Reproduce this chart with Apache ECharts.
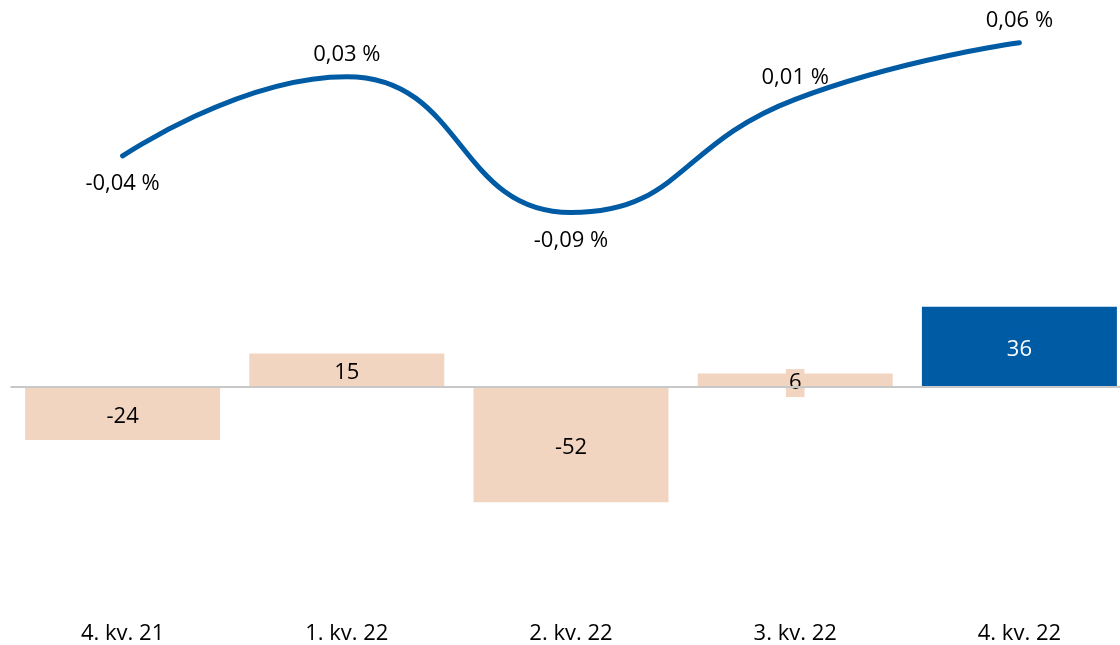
<!DOCTYPE html>
<html>
<head>
<meta charset="utf-8">
<script src="https://cdn.jsdelivr.net/npm/echarts@6/dist/echarts.min.js"></script>
<style>
  html, body { margin: 0; padding: 0; background: #fff; }
  #chart { width: 1120px; height: 645px; }
</style>
</head>
<body>
<div id="chart"></div>
<script>
// kvartaler
var categories = ['4. kv. 21', '1. kv. 22', '2. kv. 22', '3. kv. 22', '4. kv. 22'];
// søjler
var barValues = [-24, 15, -52, 6, 36];
// linje, procent
var lineValues = [-0.04, 0.03, -0.09, 0.01, 0.06];

var beige = '#f2d5c1';
var blue = '#005ba5';
var font = '"Open Sans", sans-serif';

var myChart = echarts.init(document.getElementById('chart'));

var barData = barValues.map(function (v, i) {
  var last = i === barValues.length - 1;
  return {
    value: v,
    itemStyle: { color: last ? blue : beige },
    label: { color: last ? '#fff' : '#000', backgroundColor: last ? blue : beige }
  };
});

var lineData = lineValues.map(function (v) {
  return {
    value: v,
    label: { position: v < 0 ? 'bottom' : 'top', distance: v < 0 ? 17 : 11 }
  };
});

var option = {
  animation: false,
  textStyle: { fontFamily: font },
  grid: {
    left: 10.5, width: 1121, top: 20, bottom: 36,
    containLabel: false, outerBoundsMode: 'none'
  },
  xAxis: {
    type: 'category',
    data: categories,
    boundaryGap: true,
    axisLine: { show: false },
    axisTick: { show: false },
    axisLabel: { color: '#000', fontSize: 22, margin: 14, fontFamily: font }
  },
  yAxis: [
    { type: 'value', min: -100, max: 165, show: false, splitLine: { show: false } },
    { type: 'value', min: -0.44, max: 0.08, show: false, splitLine: { show: false } }
  ],
  series: [
    {
      // nul-linje, ligger under søjlerne
      type: 'line',
      yAxisIndex: 0,
      data: [],
      z: 1,
      markLine: {
        silent: true,
        symbol: 'none',
        label: { show: false },
        lineStyle: { color: '#c8c8c8', width: 2, type: 'solid' },
        data: [{ yAxis: 0 }]
      }
    },
    {
      type: 'bar',
      yAxisIndex: 0,
      barWidth: 195,
      data: barData,
      label: {
        show: true,
        position: 'inside',
        fontSize: 22,
        fontFamily: font,
        padding: [3, 3],
        offset: [0, 3],
        formatter: function (p) { return p.value; }
      },
      z: 2
    },
    {
      type: 'line',
      yAxisIndex: 1,
      data: lineData,
      smooth: 0.5,
      symbol: 'circle',
      symbolSize: 0,
      showSymbol: true,
      lineStyle: { color: blue, width: 5, cap: 'round' },
      itemStyle: { color: blue },
      label: {
        show: true,
        color: '#000',
        fontSize: 22,
        fontFamily: font,
        formatter: function (p) {
          return p.value.toFixed(2).replace('.', ',') + ' %';
        }
      },
      z: 3
    }
  ]
};

myChart.setOption(option);
window.addEventListener('resize', function () { myChart.resize(); });
</script>
</body>
</html>
